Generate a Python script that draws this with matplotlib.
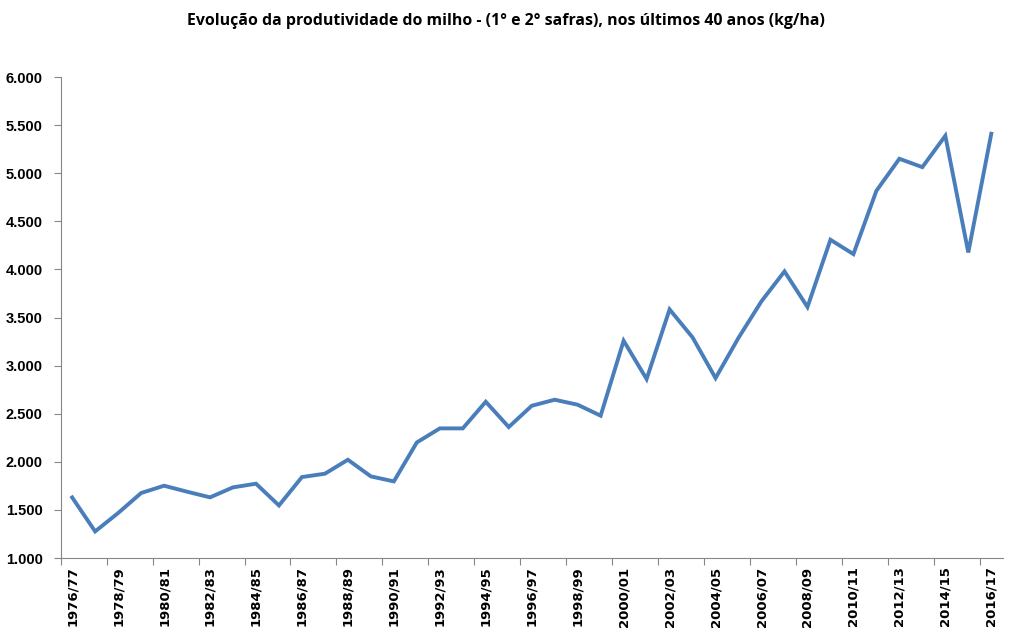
import matplotlib.pyplot as plt
import matplotlib.ticker as mticker
import numpy as np

# Safras 1976/77 a 2016/17
safras = ['%d/%02d' % (a, (a + 1) % 100) for a in range(1976, 2017)]
produtividade = [1630, 1277, 1468, 1676, 1752, 1690, 1631, 1735, 1773, 1547,
                 1842, 1877, 2022, 1849, 1797, 2202, 2348, 2348, 2625, 2362,
                 2583, 2646, 2594, 2480, 3259, 2861, 3585, 3294, 2871, 3290,
                 3670, 3980, 3610, 4309, 4160, 4818, 5151, 5064, 5390, 4177,
                 5411]
titulo = 'Evolução da produtividade do milho - (1° e 2° safras), nos últimos 40 anos (kg/ha)'

x = np.arange(len(safras))

fig = plt.figure(figsize=(10.13, 6.32), dpi=100)
ax = fig.add_axes([0.0599, 0.117, 0.930, 0.761])

ax.plot(x, produtividade, color='#4a7ebb', linewidth=2.8, solid_joinstyle='miter')

ax.set_xlim(-0.5, len(safras) - 0.5)
ax.set_ylim(1000, 6000)
ax.set_yticks(np.arange(1000, 6001, 500))
ax.yaxis.set_major_formatter(mticker.FuncFormatter(lambda v, p: f'{int(v):,}'.replace(',', '.')))

# marcas nos limites das categorias (a cada 2), rótulos no centro
ax.set_xticks(np.arange(-0.5, len(safras), 2))
ax.set_xticklabels([])
ax.set_xticks(x[::2], minor=True)
ax.set_xticklabels(safras[::2], minor=True, rotation=90)
ax.tick_params(axis='x', which='major', length=5, color='#868686', direction='out')
ax.tick_params(axis='x', which='minor', length=0, pad=6, labelsize=9.5)
ax.tick_params(axis='y', length=5, color='#868686', labelsize=10.5, pad=8)
for lab in ax.get_xticklabels(minor=True):
    lab.set_fontweight('bold')
for lab in ax.get_yticklabels():
    lab.set_fontweight('bold')
    lab.set_family('Liberation Sans')

for s in ['top', 'right']:
    ax.spines[s].set_visible(False)
for s in ['left', 'bottom']:
    ax.spines[s].set_color('#868686')

fig.text(0.499, 0.966, titulo, ha='center', va='center', fontsize=11.4,
         fontweight='bold', family='Open Sans')

fig.savefig('out.png', dpi=100)
